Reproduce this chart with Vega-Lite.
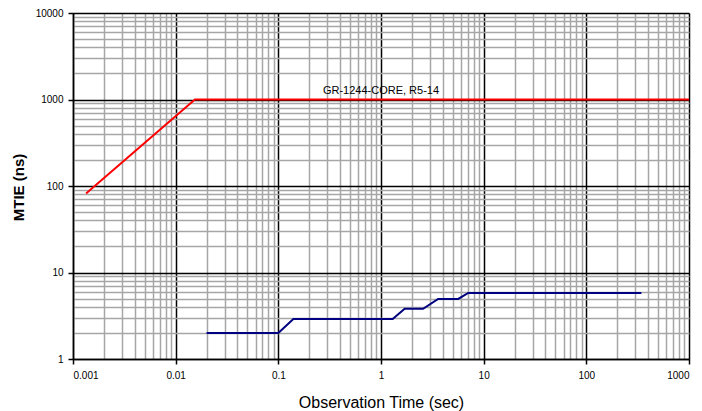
{
  "$schema": "https://vega.github.io/schema/vega-lite/v6.json",
  "width": 616,
  "height": 346,
  "autosize": "none",
  "padding": {"left": 73, "top": 13, "right": 13, "bottom": 52},
  "background": "white",
  "config": {"view": {"stroke": null}, "font": "Liberation Sans"},
  "data": {
    "values": [
      {"series": "GR-1244", "x": 0.00134, "y": 82},
      {"series": "GR-1244", "x": 0.0154, "y": 1000},
      {"series": "GR-1244", "x": 1000, "y": 1000},
      {"series": "measured", "x": 0.02, "y": 2},
      {"series": "measured", "x": 0.1, "y": 2},
      {"series": "measured", "x": 0.14, "y": 2.9},
      {"series": "measured", "x": 1.3, "y": 2.9},
      {"series": "measured", "x": 1.7, "y": 3.8},
      {"series": "measured", "x": 2.57, "y": 3.8},
      {"series": "measured", "x": 3.6, "y": 4.95},
      {"series": "measured", "x": 5.65, "y": 4.95},
      {"series": "measured", "x": 7.07, "y": 5.8},
      {"series": "measured", "x": 344, "y": 5.8}
    ]
  },
  "layer": [
    {
      "mark": {"type": "line", "strokeOpacity": 0},
      "encoding": {
        "x": {
          "field": "x", "type": "quantitative",
          "scale": {"type": "log", "domain": [0.001, 1000], "nice": false},
          "axis": {
            "orient": "bottom",
            "values": [0.002,0.003,0.004,0.005,0.006,0.007,0.008,0.009,0.02,0.03,0.04,0.05,0.06,0.07,0.08,0.09,0.2,0.3,0.4,0.5,0.6,0.7,0.8,0.9,2,3,4,5,6,7,8,9,20,30,40,50,60,70,80,90,200,300,400,500,600,700,800,900],
            "labels": false, "ticks": false, "domain": false, "title": null,
            "grid": true, "gridColor": "#a6a6a6", "gridWidth": 1.5, "gridOpacity": 1
          }
        },
        "y": {
          "field": "y", "type": "quantitative",
          "scale": {"type": "log", "domain": [1, 10000], "nice": false},
          "axis": {
            "orient": "left",
            "values": [2,3,4,5,6,7,8,9,20,30,40,50,60,70,80,90,200,300,400,500,600,700,800,900,2000,3000,4000,5000,6000,7000,8000,9000],
            "labels": false, "ticks": false, "domain": false, "title": null,
            "grid": true, "gridColor": "#a6a6a6", "gridWidth": 1.5, "gridOpacity": 1
          }
        },
        "detail": {"field": "series"}
      }
    },
    {
      "mark": {"type": "line", "strokeWidth": 2},
      "encoding": {
        "x": {
          "field": "x", "type": "quantitative",
          "scale": {"type": "log", "domain": [0.001, 1000], "nice": false},
          "axis": {
            "orient": "bottom",
            "values": [0.001, 0.01, 0.1, 1, 10, 100, 1000],
            "format": "~g",
            "grid": true, "gridColor": "#000000", "gridWidth": 1.5, "gridOpacity": 1,
            "domainColor": "#000000", "domainWidth": 1.5,
            "tickColor": "#000000", "tickSize": 5, "tickWidth": 1.5,
            "labelFont": "Liberation Sans", "labelFontSize": 10, "labelColor": "#000000", "labelPadding": 6,
            "title": "Observation Time (sec)",
            "titleFont": "Liberation Sans", "titleFontSize": 16, "titleFontWeight": "normal", "titleColor": "#000000",
            "titleX": 308, "titleY": 43, "titleBaseline": "middle"
          }
        },
        "y": {
          "field": "y", "type": "quantitative",
          "scale": {"type": "log", "domain": [1, 10000], "nice": false},
          "axis": {
            "orient": "left",
            "values": [1, 10, 100, 1000, 10000],
            "format": "~g",
            "grid": true, "gridColor": "#000000", "gridWidth": 1.5, "gridOpacity": 1,
            "domainColor": "#000000", "domainWidth": 1.5,
            "tickColor": "#000000", "tickSize": 5, "tickWidth": 1.5,
            "labelFont": "Liberation Sans", "labelFontSize": 10, "labelColor": "#000000", "labelPadding": 5,
            "title": "MTIE (ns)",
            "titleFont": "Liberation Sans", "titleFontSize": 15, "titleFontWeight": "bold", "titleColor": "#000000",
            "titleX": -55, "titleY": 174, "titleBaseline": "middle", "titleAngle": -90
          }
        },
        "color": {
          "field": "series", "type": "nominal",
          "scale": {"domain": ["GR-1244", "measured"], "range": ["#ff0000", "#000080"]},
          "legend": null
        }
      }
    },
    {
      "data": {"values": [{"x": 1, "y": 1000, "label": "GR-1244-CORE, R5-14"}]},
      "mark": {"type": "text", "font": "Liberation Sans", "fontSize": 11, "color": "#000000", "baseline": "middle", "align": "center", "dy": -9},
      "encoding": {
        "x": {"field": "x", "type": "quantitative", "scale": {"type": "log", "domain": [0.001, 1000], "nice": false}, "axis": null},
        "y": {"field": "y", "type": "quantitative", "scale": {"type": "log", "domain": [1, 10000], "nice": false}, "axis": null},
        "text": {"field": "label"}
      }
    }
  ],
  "resolve": {"axis": {"x": "independent", "y": "independent"}}
}
